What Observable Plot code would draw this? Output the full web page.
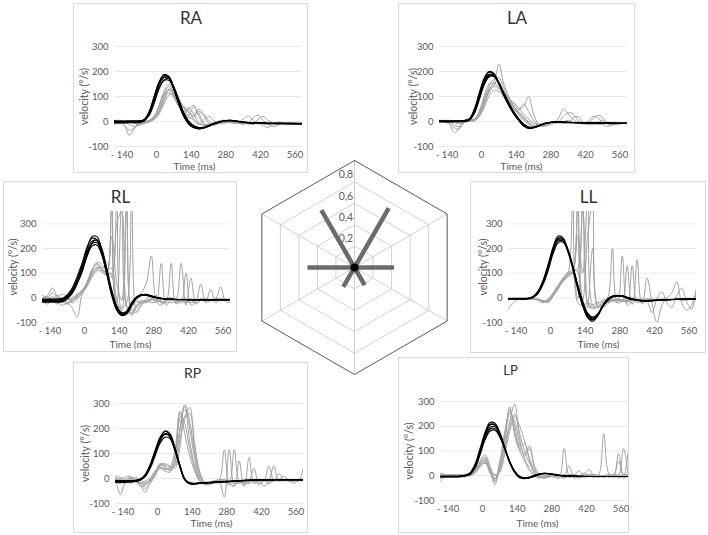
<!DOCTYPE html>
<html><head><meta charset="utf-8">
<script src="https://cdn.jsdelivr.net/npm/d3@7"></script>
<script src="https://cdn.jsdelivr.net/npm/@observablehq/plot@0.6"></script>
<style>
body{margin:0;background:#fff;}
#page{position:relative;width:708px;height:535px;overflow:hidden;font-family:Lato,"Open Sans",sans-serif;}
.box{position:absolute;outline:1px solid #d9d9d9;outline-offset:-1px;}
.box svg,#radar svg{position:absolute;left:0;top:0;max-width:none;overflow:visible;}
#radar{position:absolute;}
</style></head>
<body><div id="page"></div>
<script>
// ---- time grid (ms) ----
const T = [-170,-150,-130,-110,-90,-70,-50,-30,-10,10,30,50,70,90,110,130,150,170,190,210,230,250,270,290,310,330,350,370,390,410,430,450,470,490,510,530,550,570,590];
const yTicks = [-100,0,100,200,300];
const yTickLabels = ["-100","0","100","200","300"];
const xTicks = [-140,0,140,280,420,560];
const xTickLabels = ["- 140","0","140","280","420","560"];

// ---- RA ----
const raBlack = [
[-2,-2,-3,-2,-1,0,8,40,100,158,188,178,128, 70,20,-10,-24,-28,-24,-16,-8,-2,3,5,3,0, -3,-5,-6,-6,-7,-7,-8,-8,-7,-7,-8,-8,-8],
[0,0,-1,0,0,1,6,32,88,148,178,175,132, 76,26,-6,-20,-26,-24,-17,-9,-3,2,4,3,0, -3,-5,-6,-7,-7,-8,-8,-8,-8,-8,-8,-9,-9],
[3,2,2,3,3,4,6,24,72,130,166,172,140, 88,36,2,-16,-24,-25,-19,-11,-4,1,4,4,1, -2,-4,-5,-6,-6,-7,-7,-6,-7,-7,-7,-8,-8],
[-4,-4,-4,-3,-3,-2,4,36,95,155,184,180,134, 74,22,-9,-23,-29,-26,-18,-10,-3,2,5,4,1, -2,-4,-5,-6,-7,-7,-8,-9,-9,-9,-10,-10,-10],
[1,1,0,1,1,2,5,28,80,138,164,165,130, 78,30,-2,-18,-24,-23,-17,-10,-4,1,3,3,1, -2,-4,-6,-6,-6,-7,-7,-7,-8,-8,-8,-8,-8],
[-6,-6,-6,-5,-5,-4,2,30,90,150,176,174,130, 72,22,-10,-24,-30,-27,-19,-11,-4,1,3,2,-1, -4,-6,-7,-8,-8,-9,-9,-9,-9,-10,-10,-10,-10]
];
const raGray = [
[-5,-3,-15,-55,-30,-10,-5,5,20,60,110,140,105, 60,40,55,30,-5,-15,-10,-5,0,5,2,-5,-8, -3,-6,-8,-6,-5,-8,-10,-7,-5,-8,-6,-4,-6],
[0,2,0,-3,-5,-8,-5,2,15,45,95,125,110, 70,30,50,65,20,-10,-20,-8,2,0,-5,-3,-4, 10,22,5,-10,-5,-8,-6,-12,-8,-6,-5,-8,-7],
[5,3,-2,-12,-20,-10,0,3,10,35,80,130,120, 85,55,35,20,40,25,-5,-15,-10,-3,2,0,-5, -8,-5,15,25,5,-10,-20,-15,-5,-10,-6,-4,-5],
[-10,-8,-5,-2,-5,-12,-8,0,12,40,90,115,95, 65,60,45,10,-12,5,20,5,-5,-8,-3,-2,-6, -12,-3,-8,-5,-15,-25,-10,-3,-6,-8,-5,-8,-9],
[2,0,-15,-35,-25,-5,0,4,18,55,105,128,100, 60,35,20,5,-8,-15,-12,-8,-4,-2,0,3,-3, -8,-4,-6,8,20,5,-5,-10,-7,-5,-6,-8,-6],
[-3,-5,-3,0,2,-2,-6,-2,8,30,70,105,110, 90,55,25,60,35,-5,-18,-10,-3,5,-2,-6,-4, -3,-8,-12,-4,-6,-7,-8,-5,-10,-6,-4,-7,-8],
[4,5,2,-2,-8,-15,-5,3,20,65,120,150,115, 65,30,15,25,50,30,5,-10,-6,0,-3,-5,-2, -6,-10,-4,-3,-7,-12,-5,-6,-8,-9,-7,-6,-8]
];

// ---- LA ----
const laBlack = [
[0,0,0,0,1,2,8,42,105,165,196,190,155, 110,70,35,8,-15,-25,-24,-18,-10,-5,-3,-2,-3, -4,-4,-5,-5,-5,-6,-6,-6,-6,-7,-7,-7,-7],
[2,2,1,2,2,3,6,35,95,155,185,184,152, 108,68,34,8,-12,-22,-22,-16,-9,-4,-2,-2,-3, -3,-4,-4,-5,-5,-5,-6,-6,-6,-6,-7,-7,-7],
[-2,-2,-2,-1,-1,0,5,30,85,145,178,182,155, 115,76,40,12,-10,-22,-24,-19,-11,-6,-3,-3,-3, -4,-5,-5,-5,-6,-6,-6,-7,-7,-7,-8,-8,-8],
[1,1,1,1,2,3,10,48,112,172,200,192,152, 104,64,30,4,-18,-28,-26,-19,-11,-5,-2,-2,-3, -4,-4,-5,-5,-6,-6,-6,-6,-7,-7,-7,-8,-8],
[0,0,-1,0,0,1,6,32,90,150,180,180,150, 110,72,38,10,-12,-23,-23,-17,-10,-5,-3,-3,-3, -4,-4,-5,-5,-5,-6,-6,-6,-6,-7,-7,-7,-7],
[3,3,3,3,3,4,8,38,98,160,188,186,153, 108,66,32,5,-16,-26,-25,-18,-10,-5,-2,-2,-2, -3,-4,-4,-5,-5,-5,-6,-6,-6,-6,-7,-7,-7]
];
const laGray = [
[5,2,-10,-45,-25,5,8,10,40,100,150,160,230, 150,100,60,40,20,-5,-20,-15,-8,-5,-3,10,50, 30,10,-5,-10,-8,-5,-12,-8,-5,-10,-8,-6,-5],
[0,0,2,-15,-20,0,5,8,30,80,130,150,140, 120,95,70,50,60,100,30,-10,-20,-15,-8,-5,-2, 5,-3,-6,-8,0,20,15,-5,-8,-12,-6,-5,-6],
[3,5,0,-5,-8,2,8,6,25,70,115,140,130, 110,80,55,35,15,0,-12,-20,-12,-8,-5,-3,20, 35,30,5,-8,-10,-12,-5,5,-10,-15,-8,-7,-6],
[-2,0,3,0,-5,-3,0,2,18,55,100,125,120, 105,90,75,55,30,10,-5,-15,-18,-10,-6,-4,-8, -6,-5,-8,-6,-4,10,25,15,-5,-8,-10,-5,-4],
[2,4,5,3,0,6,5,4,35,90,140,170,160, 120,85,55,25,5,-10,-18,-12,-6,-4,-2,-3,-5, -3,-6,-5,-8,-10,-5,-3,-8,-6,-9,-7,-6,-5],
[0,-3,-8,-25,-30,-5,3,5,20,65,120,145,175, 135,90,60,45,70,40,5,-12,-15,-10,-5,-2,-4, -6,15,20,-2,-8,-6,-5,-12,-20,-10,-6,-5,-6],
[4,3,1,-2,-6,4,10,8,28,75,125,155,135, 95,70,50,30,10,-8,-22,-18,-10,-6,-3,-2,-6, -8,-5,-3,-6,-8,-4,-6,-5,-3,-10,-12,-8,-7]
];

// ---- RL ----
const rlBlack = [
[-8,-8,-8,-8,-6,8,30,70,120,185,230,232,185, 105,20,-40,-65,-60,-25,2,12,12,6,1,-3,-5, -6,-7,-7,-7,-8,-8,-8,-8,-8,-8,-8,-8,-8],
[-12,-12,-12,-12,-10,4,28,72,128,198,248,248,195, 110,18,-48,-72,-65,-28,0,12,14,8,2,-2,-4, -6,-7,-7,-8,-8,-8,-9,-9,-9,-9,-9,-9,-9],
[-15,-15,-15,-15,-13,0,22,60,108,168,210,214,172, 98,22,-35,-60,-55,-22,2,10,10,5,0,-3,-5, -6,-7,-7,-7,-8,-8,-8,-8,-8,-8,-8,-8,-8],
[-5,-5,-5,-4,-2,10,32,74,124,180,220,224,180, 102,16,-42,-68,-62,-26,1,11,12,6,1,-3,-5, -6,-6,-7,-7,-7,-7,-8,-8,-8,-8,-8,-8,-8],
[-18,-18,-18,-18,-16,-4,18,56,105,170,222,235,198, 120,32,-32,-62,-63,-32,-2,10,13,8,2,-2,-5, -6,-7,-8,-8,-8,-9,-9,-9,-9,-9,-9,-9,-9],
[-10,-10,-10,-9,-6,12,40,86,140,205,242,235,180, 95,8,-50,-70,-58,-20,4,13,11,5,0,-4,-5, -6,-7,-7,-7,-8,-8,-8,-8,-8,-8,-8,-8,-8]
];
const rlGray = [
[-5,10,40,5,-20,-10,0,15,30,60,110,140,120, 100,380,-40,-60,-50,-20,-10,20,60,170,-10,-30,-5, 0,-10,-5,-8,-5,-10,-6,-8,-10,-5,-6,-8,-6],
[-20,-10,5,-15,-30,-20,-5,10,25,55,100,120,110, 95,100,400,-55,-70,-40,-15,-20,-5,10,-20,140,-30, -10,-15,-5,-20,-8,-10,-5,-8,-6,-7,-5,-8,-7],
[10,0,-10,-25,-10,-20,-40,-80,15,50,90,115,125, 110,90,-20,390,-40,-60,-30,-10,-15,-5,10,-20,-15, 140,-25,-10,-5,-20,-10,-5,-6,-8,-6,-7,-5,-6],
[-8,-15,-5,10,-5,-20,-15,5,30,65,115,135,115, 105,250,60,-10,380,-65,-40,-20,-10,-5,-15,-10,-5, -20,-10,140,-30,80,-20,-10,-5,-8,-6,-5,-7,-8],
[0,5,-8,-20,-15,-5,-10,0,18,45,85,110,105, 90,85,300,350,-30,-70,-35,-15,-20,-10,-5,-20,-10, -5,-15,-20,100,-30,-15,55,-20,-10,-5,-8,-6,-7],
[-15,-25,-10,0,15,5,-20,-5,22,55,100,125,115, 100,420,-30,-40,-20,380,-55,-25,-10,-20,-15,-5,-10, -5,-20,-10,-15,-5,-10,-5,-15,35,-20,-5,-8,-10],
[-10,0,20,0,-15,-25,-10,8,28,62,110,145,135, 115,120,-10,-50,350,-45,-60,-30,-15,-5,-10,-15,-20, -10,-5,-15,-20,-10,-25,-10,-5,-10,-5,45,-15,-20]
];

// ---- LL ----
const llBlack = [
[-3,-3,-3,-3,-2,5,25,65,125,195,240,238,195, 125,45,-25,-72,-88,-70,-35,-8,5,9,7,0,-6, -10,-12,-12,-11,-10,-9,-8,-7,-6,-6,-5,-5,-5],
[-5,-5,-5,-5,-4,3,22,60,118,185,230,230,190, 124,48,-20,-66,-82,-68,-36,-10,3,8,7,1,-5, -9,-11,-11,-10,-9,-8,-7,-7,-6,-6,-5,-5,-5],
[-2,-2,-2,-2,-1,6,28,72,135,205,250,244,196, 122,38,-32,-80,-95,-75,-36,-6,7,10,6,-1,-7, -11,-13,-13,-12,-11,-10,-8,-7,-6,-6,-5,-5,-5],
[-6,-6,-6,-6,-5,1,18,55,110,178,222,226,190, 128,52,-15,-62,-78,-66,-36,-12,2,8,8,2,-4, -8,-10,-11,-11,-10,-9,-8,-7,-7,-6,-6,-5,-5],
[-4,-4,-4,-4,-3,4,24,66,128,198,242,236,188, 116,36,-32,-78,-90,-70,-32,-5,6,9,6,-1,-7, -11,-13,-13,-12,-10,-9,-8,-7,-6,-5,-5,-5,-5],
[-3,-3,-3,-3,-2,4,22,62,122,190,235,236,196, 128,48,-22,-70,-86,-72,-38,-10,4,9,8,1,-5, -10,-12,-12,-11,-10,-9,-8,-7,-6,-6,-5,-5,-5]
];
const llGray = [
[-45,-20,-5,-5,-3,-5,-8,-15,-5,20,50,80,100, 380,-20,-30,-20,-40,-25,-10,0,200,-20,-15,-10,-5, -8,-10,-5,-8,-10,-5,-12,-8,-6,-10,-8,-6,-5],
[-5,-5,-4,-6,-5,-4,-10,-20,-8,15,45,75,95, 110,400,-10,-40,-30,-20,-15,-10,-5,-20,170,-30,-10, -5,-8,-5,-6,-10,-5,-8,-6,-5,-8,-7,-6,-5],
[-3,-4,-5,-5,-6,-4,-5,-18,-12,10,40,70,90, 105,120,390,-20,-45,-35,-20,-15,-10,-8,-15,130,-25, -10,-5,-8,-10,-5,-8,-6,-5,-4,-6,-8,-5,-6],
[-6,-5,-5,-4,-5,-6,-8,-10,-20,5,35,65,85, 100,250,100,400,-30,-40,-25,-15,-10,-12,-10,-20,130, -20,-10,-5,-15,-10,-8,-5,-10,-6,-8,-7,-6,-5],
[-4,-4,-6,-5,-4,-5,-6,-12,-15,12,42,72,98, 115,105,-10,250,380,-35,-30,-20,-15,-10,-8,-5,-20, 155,-25,-10,-5,-8,-6,-5,-8,-6,-5,-7,-6,-5],
[-5,-6,-5,-5,-5,-6,-8,-14,-10,8,38,68,92, 108,350,-30,-20,-30,-40,-20,-15,-8,-5,-10,-15,-10, -5,-20,80,-20,-100,-30,0,20,65,-20,-50,-30,40],
[-5,-5,-5,-6,-5,-5,-7,-16,-6,18,48,78,104, 95,-5,360,-35,200,-30,-40,-25,-10,-5,-8,-10,-5, -8,-10,-15,-60,-5,25,-20,-40,10,40,-15,-45,30]
];

// ---- RP ----
const rpBlack = [
[-12,-12,-12,-12,-10,-5,12,50,105,160,190,180,125, 55,-2,-18,-20,-18,-17,-16,-15,-14,-13,-12,-10,-9, -8,-7,-7,-6,-6,-6,-5,-5,-5,-5,-5,-5,-5],
[-15,-15,-15,-14,-12,-6,10,45,98,150,178,172,120, 52,-4,-20,-22,-20,-19,-18,-17,-16,-14,-13,-11,-10, -9,-8,-7,-7,-6,-6,-6,-5,-5,-5,-5,-5,-5],
[-10,-10,-10,-10,-8,-2,14,52,108,158,180,166,112, 46,-5,-19,-20,-18,-16,-15,-14,-13,-12,-11,-10,-9, -8,-7,-6,-6,-6,-5,-5,-5,-5,-5,-5,-5,-5],
[-14,-14,-13,-13,-11,-6,8,40,90,140,165,160,112, 50,-3,-18,-20,-19,-18,-17,-16,-15,-13,-12,-10,-9, -8,-7,-7,-6,-6,-6,-5,-5,-5,-5,-5,-5,-5],
[-8,-8,-8,-8,-7,-2,16,56,112,165,188,176,120, 50,-6,-22,-23,-20,-18,-16,-15,-14,-12,-11,-10,-9, -8,-7,-7,-6,-6,-5,-5,-5,-5,-5,-5,-5,-5],
[-13,-13,-13,-12,-10,-4,12,48,100,152,176,170,120, 54,-1,-17,-19,-18,-17,-16,-15,-14,-13,-12,-11,-10, -9,-8,-7,-6,-6,-6,-5,-5,-5,-5,-5,-5,-5]
];
const rpGray = [
[0,-65,-10,5,-5,-20,-10,0,20,45,40,35,60, 260,220,120,40,-10,-20,-15,-10,-5,115,-20,-30,-10, -5,-20,-8,-5,-10,50,-8,-5,-5,-10,-8,-5,-8],
[5,-10,-20,0,-10,-25,-55,-15,15,55,45,30,70, 180,290,200,80,0,-25,-20,-10,-15,-75,115,-20,-10, -30,85,-20,-10,-5,-8,-6,-10,-5,-8,-6,-10,-5],
[-10,-5,5,10,-5,-15,-20,-5,25,60,50,40,90, 240,275,150,50,-5,-20,-18,-10,-5,-10,-15,115,-10, -20,-10,40,-25,-10,-15,-5,-8,-10,-5,-8,-10,45],
[-5,0,-15,-5,5,-10,-30,0,30,45,35,45,110, 270,180,90,30,-10,-22,-20,-15,-10,-5,-20,-30,70, -25,-15,-5,-10,-8,-20,-10,-5,10,-8,-10,-5,-6],
[10,5,-5,-20,-10,-5,-15,-10,20,50,55,50,40, 120,250,260,120,20,-15,-20,-12,-8,-5,-15,-10,-20, -5,-10,-15,-5,-30,-10,50,-10,-5,-8,-10,-5,-8],
[-15,-20,-5,0,-15,-20,-40,-20,10,40,30,25,65, 200,295,230,100,10,-20,-25,-15,-8,-6,-10,-20,-10, -15,-5,-10,-20,-10,-5,-8,-6,-10,-5,-20,-8,-6],
[0,-10,-10,-5,-10,-30,-25,-5,20,55,60,45,50, 150,240,285,140,30,-15,-18,-10,-5,-10,-25,-10,-15, -8,-5,-12,-10,-5,-8,-10,20,-5,-10,-5,-8,-10]
];

// ---- LP ----
const lpBlack = [
[-3,-3,-3,-3,-2,1,10,42,100,165,205,205,170, 112,55,15,-5,-8,-5,2,8,10,8,4,1,-1, -2,-2,-3,-3,-3,-3,-3,-3,-3,-3,-3,-3,-3],
[-2,-2,-2,-2,-1,2,12,48,110,175,215,212,175, 115,56,14,-7,-10,-7,0,7,9,8,4,1,-1, -2,-2,-3,-3,-3,-3,-3,-3,-3,-3,-3,-3,-3],
[-4,-4,-4,-4,-3,0,8,36,90,150,188,190,160, 108,55,18,-3,-9,-8,-2,5,9,8,5,2,0, -1,-2,-2,-3,-3,-3,-3,-3,-3,-3,-3,-3,-3],
[-3,-3,-3,-3,-2,1,9,38,95,158,195,198,166, 112,58,18,-4,-10,-8,-1,6,10,9,5,2,0, -1,-2,-2,-2,-3,-3,-3,-3,-3,-3,-3,-3,-3],
[-2,-2,-2,-2,-2,1,11,44,104,168,208,206,170, 110,52,12,-8,-12,-8,0,7,10,8,4,1,-1, -2,-3,-3,-3,-3,-3,-3,-3,-3,-3,-3,-3,-3],
[-5,-5,-5,-5,-4,-1,6,32,85,145,180,184,156, 106,54,16,-4,-10,-8,-2,4,8,8,5,2,0, -1,-2,-2,-3,-3,-3,-3,-3,-3,-3,-3,-3,-3]
];
const lpGray = [
[-25,0,5,-5,0,5,10,30,60,85,40,-20,30, 150,280,160,100,60,20,0,-10,0,-5,10,0,5, -5,0,-5,10,0,-5,5,170,10,-5,0,-10,5],
[0,5,-5,0,5,0,5,20,45,70,20,-35,50, 180,260,200,120,130,60,10,-5,-10,0,-5,-10,110, 0,-5,0,-5,5,0,-5,0,-5,0,5,-5,0],
[5,0,0,5,-5,0,8,25,50,60,10,-10,40, 120,220,290,150,80,110,30,-5,0,5,0,-5,0, 40,-10,0,5,25,0,-5,0,5,-5,90,0,-5],
[-10,-5,5,0,0,-5,5,15,40,55,30,0,20, 100,200,250,170,100,50,20,0,-5,-5,0,5,-5, 0,5,-5,0,-5,5,0,-5,0,-5,0,110,-5],
[0,-5,0,5,-5,5,0,20,55,75,35,-15,60, 160,270,180,110,90,120,40,5,-10,0,5,0,-5, 5,0,-10,0,5,-5,0,-5,0,5,-5,0,10],
[10,5,0,-5,0,5,0,10,35,50,25,5,15, 90,180,240,200,140,70,20,-5,0,-5,5,-5,0, -5,0,20,-5,0,5,-5,0,-5,0,60,-5,110],
[-5,0,-5,0,5,0,5,18,42,65,15,-25,35, 140,250,220,130,70,30,5,-5,-5,0,-5,0,-10, 0,5,0,-5,0,-5,5,-5,0,5,-10,5,0]
];

// ---- radar ----
const ringLevels = [0.2,0.4,0.6,0.8,1];
const ringLabels = ["0,2","0,4","0,6","0,8"];
const spokeAngles = [0,60,120,180,240,300];
const radarNames = ["RA","LA","LL","LP","RP","RL"];
const radarAngles = [330,30,90,150,210,270];
const radarValues = [0.62,0.64,0.37,0.19,0.21,0.44];

// ---- layout (pixels) ----
const panels = [
 {name:"RA", black:raBlack, gray:raGray, left:73, top:3, w:235, h:170, mL:41, mR:6, mT:43, mB:27, ymax:300, tSize:17, tDx:-17.5, tDy:-28, xlDx:-14, xlDy:20, ylDx:-30},
 {name:"LA", black:laBlack, gray:laGray, left:398, top:3, w:237, h:170, mL:41, mR:8, mT:43, mB:27, ymax:300, tSize:17, tDx:-16.5, tDy:-28, xlDx:-12, xlDy:20, ylDx:-26},
 {name:"RL", black:rlBlack, gray:rlGray, left:3, top:181, w:234, h:171, mL:39, mR:7, mT:30, mB:30, ymax:350, tSize:17, tDx:-16, tDy:-14, xlDx:-6, xlDy:22, ylDx:-29},
 {name:"LL", black:llBlack, gray:llGray, left:470, top:181, w:236, h:172, mL:38, mR:10, mT:30, mB:31, ymax:350, tSize:17, tDx:-14, tDy:-14, xlDx:-4, xlDy:22, ylDx:-25},
 {name:"RP", black:rpBlack, gray:rpGray, left:73, top:362, w:235, h:171, mL:42, mR:5, mT:41, mB:30, ymax:300, tSize:14, tDx:-17, tDy:-30, xlDx:2, xlDy:20, ylDx:-30},
 {name:"LP", black:lpBlack, gray:lpGray, left:398, top:357, w:231, h:176, mL:42, mR:1, mT:44, mB:33, ymax:300, tSize:13, tDx:-24, tDy:-31, xlDx:3, xlDy:23, ylDx:-31}
];

const rows = traces => traces.flatMap((vals,k) => vals.map((v,i) => ({t:T[i], v, k})));
const page = document.getElementById("page");
const FONT = "Lato, 'Open Sans', sans-serif";

for (const p of panels) {
  const div = document.createElement("div");
  div.className = "box";
  Object.assign(div.style, {left:p.left+"px", top:p.top+"px", width:p.w+"px", height:p.h+"px"});
  const svg = Plot.plot({
    width:p.w, height:p.h,
    marginLeft:p.mL, marginRight:p.mR, marginTop:p.mT, marginBottom:p.mB,
    style:{background:"transparent", fontFamily:FONT, fontSize:"9.5px", color:"#595959", overflow:"visible"},
    x:{domain:[-170,590], ticks:xTicks, tickFormat:d => xTickLabels[xTicks.indexOf(d)], tickSize:0, tickPadding:5, label:null},
    y:{domain:[-100,p.ymax], ticks:yTicks, tickFormat:d => yTickLabels[yTicks.indexOf(d)], tickSize:0, tickPadding:6, label:null},
    marks:[
      Plot.ruleY(yTicks, {stroke:"#e9e9e9", strokeWidth:1}),
      Plot.line(rows(p.gray), {x:"t", y:"v", z:"k", stroke:"#a3a3a3", strokeWidth:1, curve:"catmull-rom", clip:true}),
      Plot.line(rows(p.black), {x:"t", y:"v", z:"k", stroke:"#000", strokeWidth:1.1, curve:"catmull-rom", clip:true}),
      Plot.text([p.name], {text:d=>d, frameAnchor:"top", lineAnchor:"middle", dx:p.tDx, dy:p.tDy, fontSize:p.tSize, fill:"#333"}),
      Plot.text(["velocity (°/s)"], {text:d=>d, frameAnchor:"left", textAnchor:"middle", lineAnchor:"middle", dx:p.ylDx, rotate:-90, fontSize:10.5, fill:"#595959"}),
      Plot.text(["Time (ms)"], {text:d=>d, frameAnchor:"bottom", lineAnchor:"middle", textAnchor:"middle", dx:p.xlDx, dy:p.xlDy, fontSize:10, fill:"#595959"})
    ]
  });
  div.appendChild(svg);
  page.appendChild(div);
}

// radar chart
const rad = a => a*Math.PI/180;
const ringRows = ringLevels.flatMap(r => [...spokeAngles, 0].map(a => ({r, x:r*Math.sin(rad(a)), y:r*Math.cos(rad(a))})));
const E = 120/107;
const radarDiv = document.createElement("div");
radarDiv.id = "radar";
Object.assign(radarDiv.style, {left:"234px", top:"147px", width:"240px", height:"240px"});
radarDiv.appendChild(Plot.plot({
  width:240, height:240, margin:0,
  style:{background:"transparent", fontFamily:FONT, overflow:"visible"},
  x:{domain:[-E,E], axis:null},
  y:{domain:[-E,E], axis:null},
  marks:[
    Plot.link(spokeAngles, {x1:0, y1:0, x2:a=>Math.sin(rad(a)), y2:a=>Math.cos(rad(a)), stroke:"#c4c4c4", strokeWidth:0.8}),
    Plot.line(ringRows.filter(d=>d.r<1), {x:"x", y:"y", z:"r", stroke:"#c4c4c4", strokeWidth:0.8}),
    Plot.line(ringRows.filter(d=>d.r===1), {x:"x", y:"y", stroke:"#595959", strokeWidth:1}),
    Plot.text(ringLabels, {text:d=>d, x:-0.012, y:(d,i)=>ringLevels[i], textAnchor:"end", dy:-7, fontSize:10.5, fill:"#595959"}),
    Plot.link(radarValues, {x1:0, y1:0, x2:(d,i)=>d*Math.sin(rad(radarAngles[i])), y2:(d,i)=>d*Math.cos(rad(radarAngles[i])), stroke:"#6b6b6b", strokeWidth:4.5, strokeLinecap:"butt"}),
    Plot.dot([0], {x:0, y:0, r:4, fill:"#000", stroke:"none"})
  ]
}));
page.insertBefore(radarDiv, page.firstChild);
</script>
</body></html>
